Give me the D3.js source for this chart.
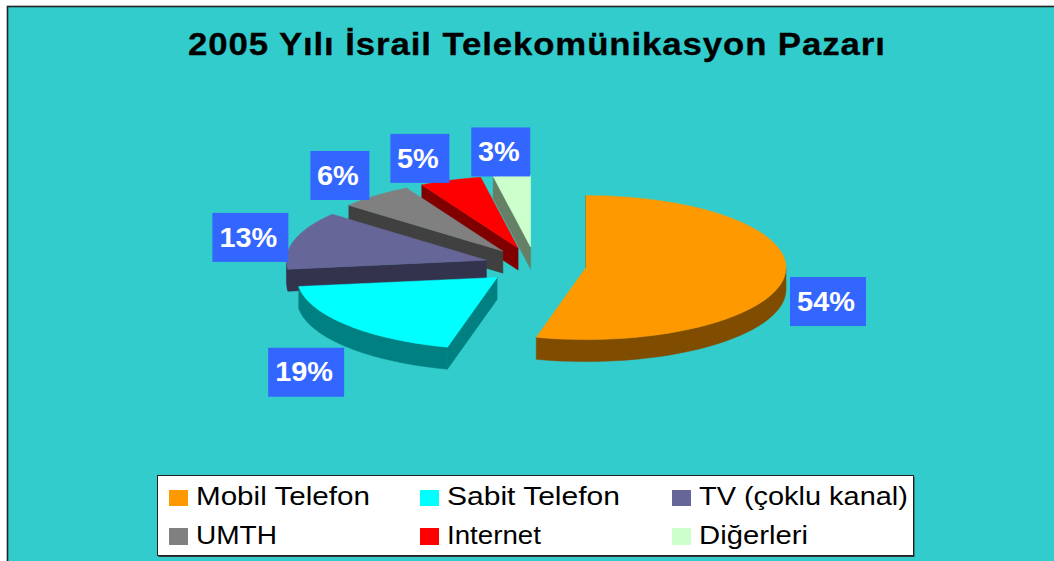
<!DOCTYPE html>
<html lang="tr">
<head>
<meta charset="utf-8">
<script src="https://cdn.jsdelivr.net/npm/d3@7/dist/d3.min.js"></script>
<style>
html,body{margin:0;padding:0;background:#fff;overflow:hidden}
svg{display:block}
text{font-family:"Liberation Sans",Arial,sans-serif}
</style>
</head>
<body>
<svg id="c" width="1054" height="561"></svg>
<script>
const titleText = "2005 Yılı İsrail Telekomünikasyon Pazarı";
const categories = ["Mobil Telefon","Sabit Telefon","TV (çoklu kanal)","UMTH","Internet","Diğerleri"];
const values = [54,19,13,6,5,3];
const topColors = ["#FF9900","#00FFFF","#666699","#808080","#FF0000","#CCFFCC"];
const sideColors = ["#804D00","#008080","#33334D","#404040","#800000","#668066"];

const W = 1054, H = 561;
const cx = 535.4, cy = 265.3, rx = 200, ry = 72, depth = 22, explode = 51;
const labelW = [76,76,76,59,59,59], labelH = 49;
const labelNudge = [[43.6,24.9],[-41,47.2],[-44,-2.7],[-35.5,-20.2],[-30.5,-21.9],[-11,-23.4]];
const legendWidths = [174,173,209,81,94,109];

const svg = d3.select("#c");
svg.append("rect").attr("x",7.5).attr("y",6.5).attr("width",W).attr("height",H)
  .attr("fill","#33CCCC").attr("stroke","#222").attr("stroke-width",1.6);

// title: slightly tracked, then fitted to the reference's measure
const title = svg.append("text").text(titleText)
  .attr("font-size",31).attr("font-weight","bold").attr("fill","#000")
  .attr("stroke","#000").attr("stroke-width",0.3).attr("letter-spacing",0.8);
const tw = title.node().getComputedTextLength();
title.attr("transform",`translate(188,55) scale(${698/tw},1)`);

const sx = d3.scaleLinear().domain([-1,1]).range([-rx,rx]);
const sy = d3.scaleLinear().domain([-1,1]).range([-ry,ry]);
const pie = d3.pie().sort(null).value(d=>d);
const arcs = pie(values);
const pt = (a,ox,oy,dz=0)=>[ox+sx(Math.sin(a)), oy+sy(-Math.cos(a))+dz];
const line = d3.line();

const layer = svg.append("g");
const order = d3.range(values.length).reverse();
order.forEach(i=>{
  const d = arcs[i];
  const mid = (d.startAngle+d.endAngle)/2;
  const ox = cx + explode*Math.sin(mid);
  const oy = cy + explode*(ry/rx)*(-Math.cos(mid));
  const steps = d3.range(0,61).map(k=>d.startAngle+(d.endAngle-d.startAngle)*k/60);
  const rim = steps.map(a=>pt(a,ox,oy));

  const front = steps.filter(a=>Math.cos(a)<0);
  if(front.length){
    const upper = front.map(a=>pt(a,ox,oy));
    const lower = front.map(a=>pt(a,ox,oy,depth)).reverse();
    layer.append("path").attr("d",line(upper.concat(lower))+"Z")
      .attr("fill",sideColors[i]).attr("stroke",sideColors[i]).attr("stroke-width",.5);
  }
  const s = pt(d.startAngle,ox,oy);
  layer.append("path")
    .attr("d",line([[ox,oy],s,[s[0],s[1]+depth],[ox,oy+depth]])+"Z")
    .attr("fill",sideColors[i]).attr("stroke",sideColors[i]).attr("stroke-width",.5);
  layer.append("path").attr("d",line([[ox,oy]].concat(rim))+"Z")
    .attr("fill",topColors[i]).attr("stroke",topColors[i]).attr("stroke-width",.5);
});

const labels = svg.append("g");
arcs.forEach((d,i)=>{
  const mid = (d.startAngle+d.endAngle)/2;
  const ox = cx + explode*Math.sin(mid);
  const oy = cy + explode*(ry/rx)*(-Math.cos(mid));
  const p = pt(mid,ox,oy);
  const lx = p[0]+labelNudge[i][0], ly = p[1]+labelNudge[i][1];
  labels.append("rect").attr("x",lx-labelW[i]/2).attr("y",ly-labelH/2)
    .attr("width",labelW[i]).attr("height",labelH).attr("fill","#3366FF");
  labels.append("text").text(values[i]+"%")
    .attr("transform",`translate(${lx-2},${ly+9.2}) scale(1.07,1)`)
    .attr("text-anchor","middle").attr("font-size",27).attr("font-weight","bold").attr("fill","#fff");
});

const lg = svg.append("g");
lg.append("rect").attr("x",158.5).attr("y",477).attr("width",756).attr("height",80).attr("fill","#333");
lg.append("rect").attr("x",157.5).attr("y",475.5).attr("width",756).attr("height",80)
  .attr("fill","#fff").attr("stroke","#222").attr("stroke-width",1);
const colX = [169,420,672], rowY = [490,528], textBase = [505,544];
categories.forEach((c,i)=>{
  const col = i%3, row = Math.floor(i/3);
  lg.append("rect").attr("x",colX[col]).attr("y",rowY[row]).attr("width",19).attr("height",row?17:16)
    .attr("fill",topColors[i]);
  const t = lg.append("text").text(c).attr("font-size",25).attr("fill","#000");
  const w = t.node().getComputedTextLength();
  t.attr("transform",`translate(${colX[col]+27},${textBase[row]}) scale(${legendWidths[i]/w},1)`);
});
</script>
</body>
</html>
